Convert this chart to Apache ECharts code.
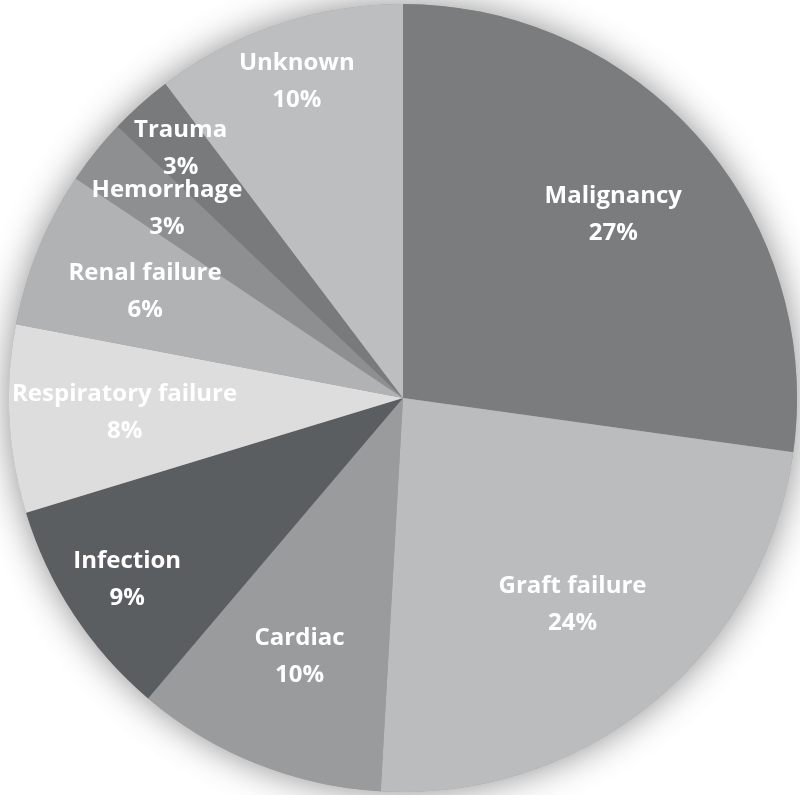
<!DOCTYPE html>
<html>
<head>
<meta charset="utf-8">
<script src="https://cdn.jsdelivr.net/npm/echarts@6/dist/echarts.min.js"></script>
<style>html,body{margin:0;padding:0;background:#fff;}#c{width:800px;height:795px;}</style>
</head>
<body>
<div id="c"></div>
<script>
var categories = ['Malignancy','Graft failure','Cardiac','Infection','Respiratory failure','Renal failure','Hemorrhage','Trauma','Unknown'];
var values = [27.2, 23.7, 10.3, 9.1, 7.7, 6.4, 2.7, 2.6, 10.3];
var colors = ['#7b7c7e','#bbbcbe','#9a9b9d','#5b5e61','#dcdddc','#b1b2b4','#8e8f91','#797a7c','#bdbebf'];
// label groups by radial distance (fraction of radius)
var labelGroups = [
  { frac: 0.67, names: ['Graft failure'] },
  { frac: 0.70, names: ['Malignancy','Cardiac','Respiratory failure','Renal failure'] },
  { frac: 0.76, names: ['Hemorrhage'] },
  { frac: 0.83, names: ['Infection'] },
  { frac: 0.84, names: ['Trauma','Unknown'] }
];

var R = 394;
var center = [403, 398];

function buildData(names) {
  return categories.map(function (name, i) {
    return {
      name: name,
      value: values[i],
      itemStyle: { color: colors[i] },
      label: { show: names ? names.indexOf(name) >= 0 : false }
    };
  });
}

var labelStyle = {
  position: 'inside',
  color: '#ffffff',
  fontFamily: 'Open Sans',
  fontWeight: 'bold',
  fontSize: 24,
  lineHeight: 37,
  formatter: function (p) { return p.name + '\n' + Math.round(p.value) + '%'; }
};

function overlay(g) {
  var d = buildData(g.names).map(function (x) { x.itemStyle = { color: 'transparent' }; return x; });
  return {
    type: 'pie', center: center, radius: [0, 2 * g.frac * R], startAngle: 90, clockwise: true,
    silent: true, z: 5, data: d, label: labelStyle, labelLine: { show: false },
    avoidLabelOverlap: false, labelLayout: { hideOverlap: false },
    emphasis: { disabled: true }, animation: false
  };
}

var series = [
  {
    type: 'pie', center: center, radius: [0, R], silent: true, z: 1,
    data: [{ value: 1, name: 'bg', itemStyle: { color: '#9a9b9d', shadowBlur: 36, shadowColor: 'rgba(0,0,0,0.45)' } }],
    label: { show: false }, labelLine: { show: false }, emphasis: { disabled: true }
  },
  {
    type: 'pie', center: center, radius: [0, R], startAngle: 90, clockwise: true, z: 2,
    data: buildData(null),
    itemStyle: { borderWidth: 0 },
    label: { show: false }, labelLine: { show: false }, emphasis: { disabled: true }
  }
];
labelGroups.forEach(function (g) { series.push(overlay(g)); });

var chart = echarts.init(document.getElementById('c'));
chart.setOption({ animation: false, series: series });
</script>
</body>
</html>
